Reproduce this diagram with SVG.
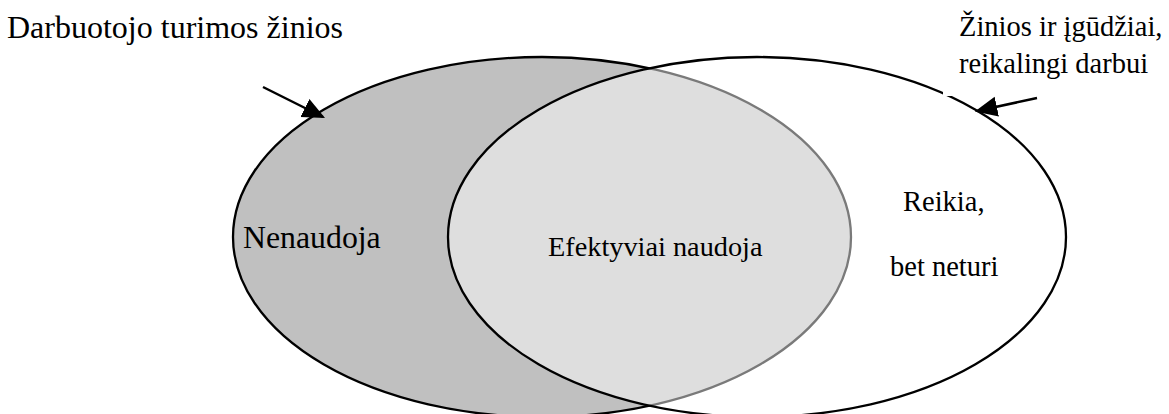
<svg xmlns="http://www.w3.org/2000/svg" width="1169" height="414" viewBox="0 0 1169 414">
  <style>
    .set { stroke: #000; stroke-width: 2.3; }
    .arrow { stroke: #000; stroke-width: 2.5; fill: none; marker-end: url(#head); }
  </style>
  <defs>
    <marker id="head" viewBox="0 0 10 10" refX="9" refY="5" markerWidth="9" markerHeight="9" markerUnits="strokeWidth" orient="auto">
      <path d="M0,0.5 L10,5 L0,9.5 Z" fill="#000"/>
    </marker>
  </defs>

  <rect width="1169" height="414" fill="#fff"/>

  <!-- knowledge the employee has -->
  <g id="employee-knowledge">
    <ellipse class="set" cx="542" cy="237" rx="309" ry="180" fill="#c0c0c0"/>
  </g>

  <!-- knowledge the job requires; translucent white lightens the overlap -->
  <g id="job-requirements">
    <ellipse class="set" cx="757" cy="237" rx="309" ry="180" fill="#fff" fill-opacity="0.48"/>
  </g>

  <g font-family="Liberation Serif, Tinos, DejaVu Serif, serif" fill="#000">
    <!-- text box of the upper-right caption -->
    <g id="caption-required">
      <rect x="943" y="0" width="226" height="96" fill="#fff"/>
      <text x="959" y="36" font-size="28.5">Žinios ir įgūdžiai,</text>
      <text x="959" y="73" font-size="28.5">reikalingi darbui</text>
    </g>

    <g id="caption-has">
      <text x="7" y="38" font-size="32">Darbuotojo turimos žinios</text>
    </g>

    <g id="region-unused">
      <text x="243" y="248" font-size="31.8">Nenaudoja</text>
    </g>

    <g id="region-effective">
      <text x="548" y="256" font-size="28.3">Efektyviai naudoja</text>
    </g>

    <g id="region-missing">
      <text x="903" y="211" font-size="28.5">Reikia,</text>
      <text x="890" y="276" font-size="28.5">bet neturi</text>
    </g>
  </g>

  <g id="connectors">
    <line class="arrow" x1="263" y1="87" x2="323" y2="117"/>
    <line class="arrow" x1="1037" y1="98" x2="977" y2="111"/>
  </g>
</svg>
